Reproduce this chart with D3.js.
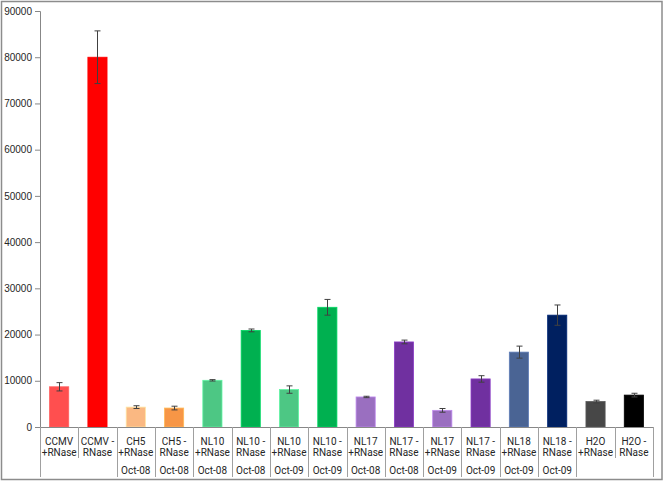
<!DOCTYPE html>
<html>
<head>
<meta charset="utf-8">
<script src="https://cdn.jsdelivr.net/npm/d3@7"></script>
<style>
  body { margin: 0; background: #fff; }
  svg { display: block; font-family: Roboto, "Liberation Sans", sans-serif; }
</style>
</head>
<body>
<div id="chart"></div>
<script>
// category labels, one array per text row
const labelTop = ['CCMV', 'CCMV -', 'CH5', 'CH5 -', 'NL10', 'NL10 -', 'NL10', 'NL10 -',
                  'NL17', 'NL17 -', 'NL17', 'NL17 -', 'NL18', 'NL18 -', 'H2O', 'H2O -'];
const labelMid = ['+RNase', 'RNase', '+RNase', 'RNase', '+RNase', 'RNase', '+RNase', 'RNase',
                  '+RNase', 'RNase', '+RNase', 'RNase', '+RNase', 'RNase', '+RNase', 'RNase'];
const dates = ['', '', 'Oct-08', 'Oct-08', 'Oct-08', 'Oct-08', 'Oct-09', 'Oct-09',
               'Oct-08', 'Oct-08', 'Oct-09', 'Oct-09', 'Oct-09', 'Oct-09', '', ''];

// mean values and error (+/-)
const values = [8700, 80000, 4300, 4100, 10100, 20900, 8100, 25900,
                6500, 18400, 3600, 10400, 16200, 24200, 5500, 6900];
const errors = [900, 5700, 300, 400, 150, 300, 800, 1700,
                150, 400, 400, 700, 1300, 2200, 300, 400];

const colors = ['#ff4f4f', '#ff0000', '#fab882', '#f79646', '#4dc784', '#00b050', '#4dc784', '#00b050',
                '#9a6fc0', '#7030a0', '#9a6fc0', '#7030a0', '#4a6494', '#002060', '#474747', '#000000'];

const yTicks = [0, 10000, 20000, 30000, 40000, 50000, 60000, 70000, 80000, 90000];

const width = 664, height = 482;
const plotLeft = 40, plotRight = 653, plotTop = 11, plotBottom = 427;

const svg = d3.select('#chart').append('svg')
    .attr('width', width)
    .attr('height', height);

// outer chart frame
svg.append('rect')
    .attr('x', 1.5).attr('y', 1.5)
    .attr('width', width - 3.5).attr('height', height - 4)
    .attr('fill', '#fff')
    .attr('stroke', '#8c8c8c')
    .attr('stroke-width', 1.5);

const idx = d3.range(values.length);

const xCell = d3.scaleBand().domain(idx).range([plotLeft, plotRight]);
const xBar = d3.scaleBand().domain(idx).range([plotLeft, plotRight])
    .paddingInner(0.5).paddingOuter(0.25);

const y = d3.scaleLinear().domain([0, 90000]).range([plotBottom, plotTop]);

// y axis
const yAxis = svg.append('g')
    .attr('transform', `translate(${plotLeft},0)`)
    .call(d3.axisLeft(y).tickValues(yTicks).tickSize(5).tickPadding(3).tickFormat(d3.format('d')));
yAxis.select('.domain').attr('stroke', '#878787');
yAxis.selectAll('.tick line').attr('stroke', '#878787');
yAxis.selectAll('.tick text').attr('font-size', 10).attr('fill', '#262626');

// bars
svg.append('g').selectAll('rect')
    .data(idx)
    .enter()
    .append('rect')
      .attr('x', i => xBar(i))
      .attr('y', i => y(values[i]))
      .attr('width', xBar.bandwidth())
      .attr('height', i => y(0) - y(values[i]))
      .attr('fill', i => colors[i])
      .attr('stroke', i => d3.color(colors[i]).brighter(0.6))
      .attr('stroke-width', 0.8);

// error bars
const cap = 3;
const eb = svg.append('g').attr('stroke', '#404040').attr('stroke-width', 1);
idx.forEach(i => {
    const cx = Math.round(xBar(i) + xBar.bandwidth() / 2) + 0.5;
    const y1 = y(values[i] + errors[i]), y0 = y(values[i] - errors[i]);
    eb.append('line').attr('x1', cx).attr('x2', cx).attr('y1', y1).attr('y2', y0);
    eb.append('line').attr('x1', cx - cap).attr('x2', cx + cap).attr('y1', y1).attr('y2', y1);
    eb.append('line').attr('x1', cx - cap).attr('x2', cx + cap).attr('y1', y0).attr('y2', y0);
});

// x axis line
svg.append('line')
    .attr('x1', plotLeft).attr('x2', plotRight)
    .attr('y1', plotBottom + 0.5).attr('y2', plotBottom + 0.5)
    .attr('stroke', '#878787');

// category dividers: short where neighbouring cells share an empty date group
const edges = d3.range(values.length + 1);
svg.append('g').selectAll('line')
    .data(edges)
    .enter()
    .append('line')
      .attr('x1', i => Math.round(i < values.length ? xCell(i) : plotRight) + 0.5)
      .attr('x2', i => Math.round(i < values.length ? xCell(i) : plotRight) + 0.5)
      .attr('y1', plotBottom)
      .attr('y2', i => (i > 0 && i < values.length && dates[i] === '' && dates[i - 1] === '') ? 458 : 477)
      .attr('stroke', '#a0a0a0');

// category labels
const lab = svg.append('g')
    .attr('font-size', 10)
    .attr('fill', '#262626')
    .attr('text-anchor', 'middle');
idx.forEach(i => {
    const cx = xCell(i) + xCell.bandwidth() / 2;
    lab.append('text').attr('x', cx).attr('y', 444.5).text(labelTop[i]);
    lab.append('text').attr('x', cx).attr('y', 456).text(labelMid[i]);
    if (dates[i]) lab.append('text').attr('x', cx).attr('y', 474).text(dates[i]);
});
</script>
</body>
</html>
